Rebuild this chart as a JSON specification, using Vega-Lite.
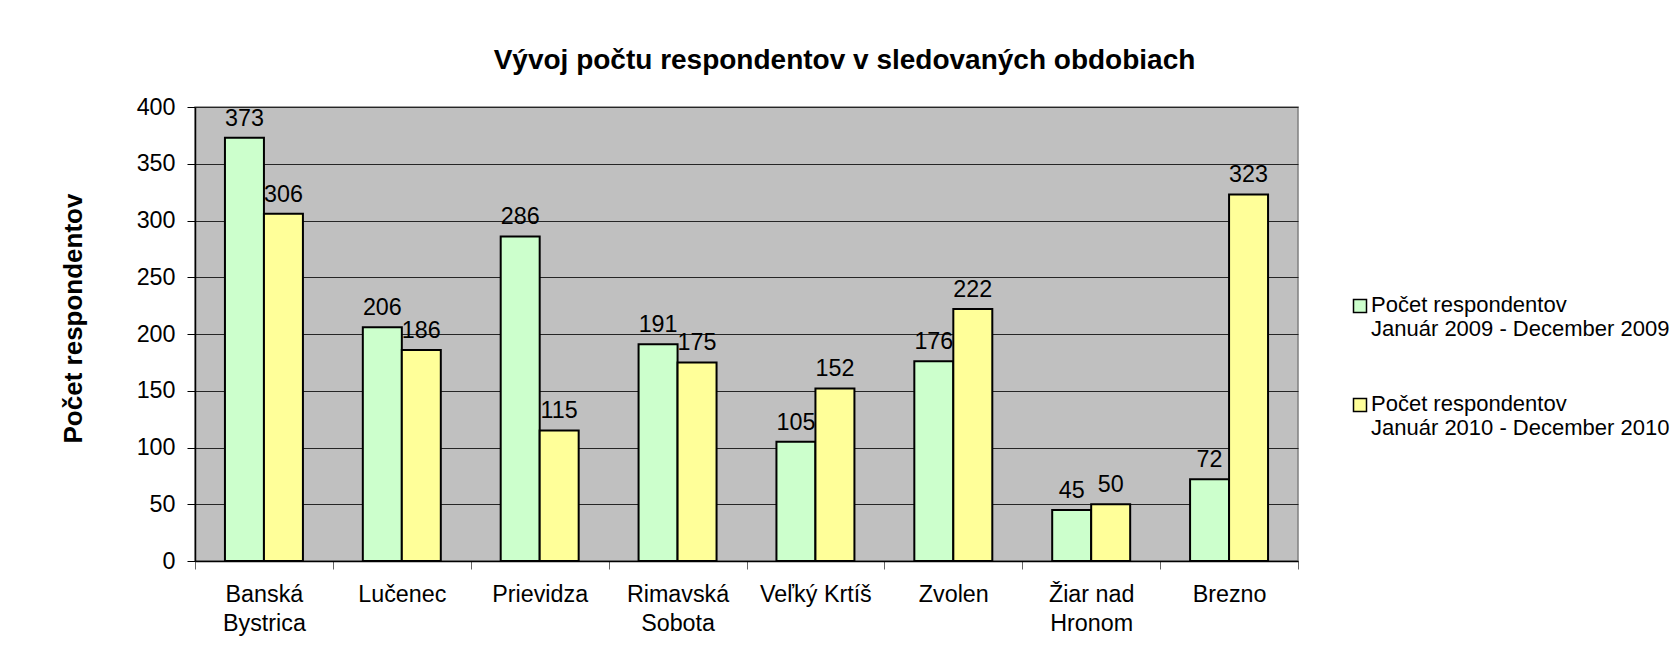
{
  "$schema": "https://vega.github.io/schema/vega-lite/v6.json",
  "autosize": "none",
  "width": 1103,
  "height": 454,
  "padding": {"left": 195, "top": 107, "right": 382, "bottom": 95},
  "background": "white",
  "title": {
    "text": "Vývoj počtu respondentov v sledovaných obdobiach",
    "anchor": "middle",
    "frame": "group",
    "dx": 98,
    "offset": -2,
    "baseline": "alphabetic",
    "font": "Liberation Sans",
    "fontSize": 28,
    "fontWeight": "bold",
    "color": "black"
  },
  "data": {
    "values": [
      {"city": "Banská\nBystrica", "period": "Počet respondentov\nJanuár 2009 - December 2009", "value": 373},
      {"city": "Banská\nBystrica", "period": "Počet respondentov\nJanuár 2010 - December 2010", "value": 306},
      {"city": "Lučenec", "period": "Počet respondentov\nJanuár 2009 - December 2009", "value": 206},
      {"city": "Lučenec", "period": "Počet respondentov\nJanuár 2010 - December 2010", "value": 186},
      {"city": "Prievidza", "period": "Počet respondentov\nJanuár 2009 - December 2009", "value": 286},
      {"city": "Prievidza", "period": "Počet respondentov\nJanuár 2010 - December 2010", "value": 115},
      {"city": "Rimavská\nSobota", "period": "Počet respondentov\nJanuár 2009 - December 2009", "value": 191},
      {"city": "Rimavská\nSobota", "period": "Počet respondentov\nJanuár 2010 - December 2010", "value": 175},
      {"city": "Veľký Krtíš", "period": "Počet respondentov\nJanuár 2009 - December 2009", "value": 105},
      {"city": "Veľký Krtíš", "period": "Počet respondentov\nJanuár 2010 - December 2010", "value": 152},
      {"city": "Zvolen", "period": "Počet respondentov\nJanuár 2009 - December 2009", "value": 176},
      {"city": "Zvolen", "period": "Počet respondentov\nJanuár 2010 - December 2010", "value": 222},
      {"city": "Žiar nad\nHronom", "period": "Počet respondentov\nJanuár 2009 - December 2009", "value": 45},
      {"city": "Žiar nad\nHronom", "period": "Počet respondentov\nJanuár 2010 - December 2010", "value": 50},
      {"city": "Brezno", "period": "Počet respondentov\nJanuár 2009 - December 2009", "value": 72},
      {"city": "Brezno", "period": "Počet respondentov\nJanuár 2010 - December 2010", "value": 323}
    ]
  },
  "encoding": {
    "x": {
      "field": "city",
      "type": "nominal",
      "sort": null,
      "scale": {"paddingInner": 0, "paddingOuter": 0},
      "axis": {
        "title": null,
        "labelAngle": 0,
        "labelExpr": "split(datum.label, '\\n')",
        "labelFont": "Liberation Sans",
        "labelFontSize": 23.3,
        "labelColor": "black",
        "labelLineHeight": 29,
        "labelBaseline": "top",
        "labelPadding": 14,
        "tickSize": 8,
        "tickColor": "#666666",
        "tickBand": "extent",
        "domainColor": "black",
        "domainWidth": 1.5,
        "labelOverlap": false,
        "labelBound": false,
        "labelLimit": 300
      }
    },
    "xOffset": {
      "field": "period",
      "type": "nominal",
      "sort": null,
      "scale": {"paddingInner": 0, "paddingOuter": 0.768}
    },
    "y": {
      "field": "value",
      "type": "quantitative",
      "scale": {"domain": [0, 400], "nice": false},
      "axis": {
        "title": "Počet respondentov",
        "titleFont": "Liberation Sans",
        "titleFontSize": 26,
        "titleFontWeight": "bold",
        "titleColor": "black",
        "titlePadding": 50,
        "titleY": 211,
        "values": [0, 50, 100, 150, 200, 250, 300, 350, 400],
        "labelFont": "Liberation Sans",
        "labelFontSize": 23.3,
        "labelColor": "black",
        "labelPadding": 12,
        "tickSize": 8,
        "tickColor": "black",
        "domainColor": "black",
        "domainWidth": 1.5,
        "grid": true,
        "gridColor": "#262626",
        "gridWidth": 1
      }
    }
  },
  "layer": [
    {
      "mark": {"type": "bar", "stroke": "black", "strokeWidth": 2},
      "encoding": {
        "fill": {
          "field": "period",
          "type": "nominal",
          "sort": null,
          "scale": {
            "domain": ["Počet respondentov\nJanuár 2009 - December 2009", "Počet respondentov\nJanuár 2010 - December 2010"],
            "range": ["#CCFFCC", "#FFFF99"]
          },
          "legend": {
            "title": null,
            "orient": "none",
            "legendX": 1154,
            "legendY": 188,
            "padding": 0,
            "offset": 0,
            "symbolType": "square",
            "symbolSize": 169,
            "symbolStrokeColor": "black",
            "symbolStrokeWidth": 1.5,
            "symbolOpacity": 1,
            "labelExpr": "split(datum.label, '\\n')",
            "labelFont": "Liberation Sans",
            "labelFontSize": 22,
            "labelColor": "black",
            "labelLineHeight": 26,
            "labelBaseline": "top",
            "labelOffset": 0,
            "labelLimit": 400,
            "rowPadding": 53,
            "encode": {
              "labels": {"update": {"dy": {"value": -11}}}
            }
          }
        }
      }
    },
    {
      "mark": {
        "type": "text",
        "baseline": "alphabetic",
        "dy": -12,
        "font": "Liberation Sans",
        "fontSize": 23.3,
        "color": "black"
      },
      "encoding": {
        "text": {"field": "value", "type": "quantitative"}
      }
    }
  ],
  "config": {
    "view": {"fill": "#C0C0C0", "stroke": "#808080", "strokeWidth": 1.5}
  }
}
